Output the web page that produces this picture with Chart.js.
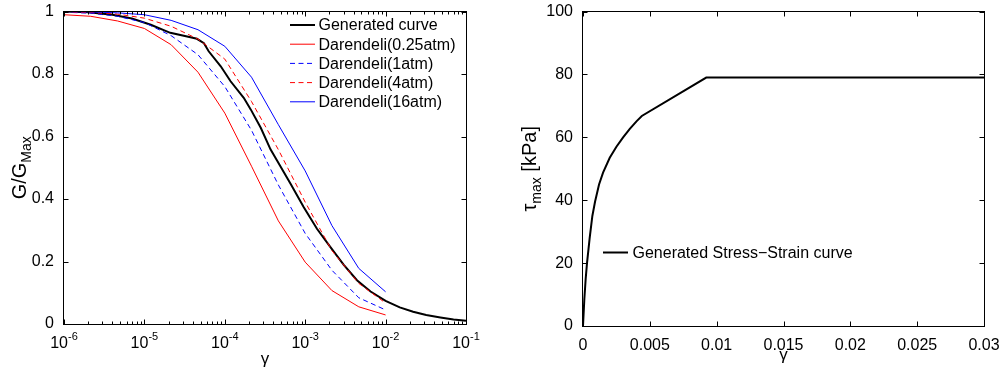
<!DOCTYPE html>
<html><head><meta charset="utf-8">
<script src="https://cdn.jsdelivr.net/npm/chart.js@4.4.0/dist/chart.umd.min.js"></script>
<style>
html,body{margin:0;padding:0;background:#fff;width:1005px;height:372px;overflow:hidden}
#c1{position:absolute;left:0;top:0}
#c2{position:absolute;left:490px;top:0}
</style></head><body>
<canvas id="c1" width="490" height="372"></canvas>
<canvas id="c2" width="515" height="372"></canvas>
<script>
const FONT = '"Liberation Sans", Arial, Helvetica, sans-serif';

// ---------- Left panel: G/Gmax curves ----------
const darGamma = [1e-6, 2.15e-6, 4.64e-6, 1e-5, 2.15e-5, 4.64e-5, 1e-4, 2.15e-4, 4.64e-4, 1e-3, 2.15e-3, 4.64e-3, 1e-2];
const dar025 = [0.99, 0.985, 0.97, 0.946, 0.894, 0.806, 0.675, 0.505, 0.33, 0.198, 0.107, 0.055, 0.029];
const dar1   = [0.998, 0.995, 0.985, 0.965, 0.923, 0.862, 0.76, 0.62, 0.445, 0.29, 0.172, 0.084, 0.045];
const dar4   = [0.999, 0.997, 0.992, 0.979, 0.953, 0.912, 0.848, 0.712, 0.558, 0.39, 0.235, 0.13, 0.067];
const dar16  = [1.0, 0.999, 0.996, 0.99, 0.972, 0.942, 0.889, 0.79, 0.638, 0.49, 0.315, 0.178, 0.103];
const genGamma = [1e-6, 2e-6, 4e-6, 7e-6, 1.2e-5, 2.1e-5, 3.4e-5, 4.5e-5, 5.5e-5, 6.3e-5, 8.9e-5, 1.18e-4, 1.72e-4, 2.1e-4, 2.8e-4, 3.7e-4, 4.5e-4, 6.6e-4, 9.6e-4, 1.4e-3, 2.06e-3, 3e-3, 4.4e-3, 6.5e-3, 1e-2, 1.5e-2, 2.2e-2, 3.2e-2, 4.8e-2, 7e-2, 1e-1];
const genG = [1.0, 0.998, 0.99, 0.978, 0.958, 0.932, 0.92, 0.913, 0.899, 0.873, 0.825, 0.777, 0.724, 0.687, 0.628, 0.559, 0.522, 0.448, 0.374, 0.305, 0.246, 0.19, 0.14, 0.104, 0.074, 0.053, 0.039, 0.029, 0.021, 0.0145, 0.0105];
const leftLabels = ['Generated curve', 'Darendeli(0.25atm)', 'Darendeli(1atm)', 'Darendeli(4atm)', 'Darendeli(16atm)'];
const leftXTicks = [1e-6, 1e-5, 1e-4, 1e-3, 1e-2, 1e-1];
const leftXTickBase = '10';
const leftXTickExp = ['-6', '-5', '-4', '-3', '-2', '-1'];
const leftYTicks = [0, 0.2, 0.4, 0.6, 0.8, 1];
const leftYTickLabels = ['0', '0.2', '0.4', '0.6', '0.8', '1'];

// ---------- Right panel: stress-strain ----------
const stressGamma = [0, 0.0001, 0.0002, 0.0003, 0.0005, 0.0007, 0.0009, 0.0012, 0.0015, 0.002, 0.0025, 0.003, 0.0035, 0.004, 0.0044, 0.00922, 0.03];
const stressTau   = [0, 8.5, 15, 20, 28, 35, 39.5, 45, 48.8, 53.5, 57, 60, 62.7, 65.1, 66.8, 79, 79];
const rightLabel = 'Generated Stress\u2212Strain curve';
const rightXTicks = [0, 0.005, 0.01, 0.015, 0.02, 0.025, 0.03];
const rightXTickLabels = ['0', '0.005', '0.01', '0.015', '0.02', '0.025', '0.03'];
const rightYTicks = [0, 20, 40, 60, 80, 100];
const rightYTickLabels = ['0', '20', '40', '60', '80', '100'];

Chart.defaults.font.family = FONT;
Chart.defaults.font.size = 16;
Chart.defaults.color = '#000';

function pts(xs, ys) { return xs.map((x, i) => ({x: x, y: ys[i]})); }

// Box + inward ticks (MATLAB style)
const boxPlugin = {
  id: 'mbox',
  afterDatasetsDraw(chart, args, o) {
    const {ctx, chartArea: a} = chart;
    const xs = chart.scales.x, ys = chart.scales.y;
    const L = Math.round(a.left) - 0.5, R = Math.round(a.right) + 0.5;
    const T = Math.round(a.top) - 0.5, B = Math.round(a.bottom) + 0.5;
    ctx.save();
    ctx.setLineDash([]);
    ctx.strokeStyle = '#000';
    ctx.lineWidth = 1;
    ctx.beginPath();
    const maj = 5, mnr = 3;
    xs.ticks.forEach(t => {
      const p = Math.round(xs.getPixelForValue(t.value)) + 0.5;
      ctx.moveTo(p, B); ctx.lineTo(p, B - maj);
      ctx.moveTo(p, T); ctx.lineTo(p, T + maj);
    });
    (o.xMinor || []).forEach(v => {
      const p = Math.round(xs.getPixelForValue(v)) + 0.5;
      ctx.moveTo(p, B); ctx.lineTo(p, B - mnr);
      ctx.moveTo(p, T); ctx.lineTo(p, T + mnr);
    });
    ys.ticks.forEach(t => {
      const p = Math.round(ys.getPixelForValue(t.value)) + 0.5;
      ctx.moveTo(L, p); ctx.lineTo(L + maj, p);
      ctx.moveTo(R, p); ctx.lineTo(R - maj, p);
    });
    ctx.stroke();
    ctx.strokeRect(L, T, R - L, B - T);

    // legend
    const lg = o.legend;
    if (lg) {
      chart.data.datasets.forEach((ds, i) => {
        const y = lg.y + i * lg.dy;
        ctx.beginPath();
        ctx.strokeStyle = ds.borderColor;
        ctx.lineWidth = ds.borderWidth;
        ctx.setLineDash(ds.borderDash || []);
        ctx.moveTo(lg.x0, y); ctx.lineTo(lg.x1, y);
        ctx.stroke();
        ctx.setLineDash([]);
        ctx.fillStyle = '#000';
        ctx.font = '16px ' + FONT;
        ctx.textAlign = 'left';
        ctx.textBaseline = 'middle';
        ctx.fillText(ds.label, lg.tx, y + 1);
      });
    }

    // x title
    if (o.xTitle) {
      ctx.fillStyle = '#000';
      ctx.font = o.xTitle.size + 'px ' + FONT;
      ctx.textAlign = 'center';
      ctx.textBaseline = 'alphabetic';
      ctx.fillText(o.xTitle.text, (a.left + a.right) / 2, o.xTitle.y);
    }
    // y title (rotated, with subscript)
    if (o.yTitle) {
      const parts = o.yTitle.parts;
      let total = 0;
      parts.forEach(p => { ctx.font = p.size + 'px ' + FONT; p.w = ctx.measureText(p.t).width; total += p.w; });
      ctx.translate(o.yTitle.x, (a.top + a.bottom) / 2);
      ctx.rotate(-Math.PI / 2);
      ctx.fillStyle = '#000';
      ctx.textAlign = 'left';
      ctx.textBaseline = 'alphabetic';
      let u = -total / 2;
      parts.forEach(p => {
        ctx.font = p.size + 'px ' + FONT;
        ctx.fillText(p.t, u, p.dy || 0);
        u += p.w;
      });
    }
    ctx.restore();
  },
  afterDraw(chart, args, o) {
    if (!o.logLabels) return;
    const {ctx} = chart;
    const xs = chart.scales.x;
    ctx.save();
    ctx.fillStyle = '#000';
    ctx.textBaseline = 'alphabetic';
    ctx.textAlign = 'left';
    o.logLabels.values.forEach((v, i) => {
      const p = xs.getPixelForValue(v);
      ctx.font = '16px ' + FONT;
      const wb = ctx.measureText(o.logLabels.base).width;
      ctx.font = '11px ' + FONT;
      const we = ctx.measureText(o.logLabels.exps[i]).width;
      const x0 = p - (wb + we) / 2;
      ctx.font = '16px ' + FONT;
      ctx.fillText(o.logLabels.base, x0, o.logLabels.y);
      ctx.font = '11px ' + FONT;
      ctx.fillText(o.logLabels.exps[i], x0 + wb, o.logLabels.y - 8);
    });
    ctx.restore();
  }
};

const minorLog = [];
for (let k = -6; k <= -2; k++) for (let m = 2; m <= 9; m++) minorLog.push(m * Math.pow(10, k));

const common = {
  responsive: false, animation: false, devicePixelRatio: 1, events: [],
  plugins: { legend: {display: false}, tooltip: {enabled: false} },
  elements: { point: {radius: 0}, line: {tension: 0} }
};

new Chart(document.getElementById('c1'), {
  type: 'line',
  data: {
    datasets: [
      {label: leftLabels[0], data: pts(genGamma, genG), borderColor: '#000000', borderWidth: 2, order: 5},
      {label: leftLabels[1], data: pts(darGamma, dar025), borderColor: '#ff0000', borderWidth: 1, order: 4},
      {label: leftLabels[2], data: pts(darGamma, dar1), borderColor: '#0000ff', borderWidth: 1, borderDash: [5, 3.5], order: 3},
      {label: leftLabels[3], data: pts(darGamma, dar4), borderColor: '#ff0000', borderWidth: 1, borderDash: [5, 3.5], order: 2},
      {label: leftLabels[4], data: pts(darGamma, dar16), borderColor: '#0000ff', borderWidth: 1, order: 1}
    ]
  },
  options: Object.assign({}, common, {
    layout: {padding: {top: 10, right: 24, left: 0, bottom: 0}},
    scales: {
      x: {
        type: 'logarithmic', min: 1e-6, max: 1e-1,
        grid: {display: false}, border: {display: false},
        ticks: {display: false},
        afterBuildTicks: s => { s.ticks = leftXTicks.map(v => ({value: v})); },
        afterFit: s => { s.height = 48; }
      },
      y: {
        type: 'linear', min: 0, max: 1,
        grid: {display: false}, border: {display: false},
        ticks: {padding: 2, autoSkip: false, callback: (v, i) => leftYTickLabels[i]},
        afterBuildTicks: s => { s.ticks = leftYTicks.map(v => ({value: v})); },
        afterFit: s => { s.width = 64; }
      }
    },
    plugins: Object.assign({}, common.plugins, {
      mbox: {
        xMinor: minorLog,
        legend: {x0: 290, x1: 315, tx: 318.5, y: 25, dy: 19.2},
        xTitle: {text: '\u03b3', size: 17, y: 363.5},
        yTitle: {x: 25.5, parts: [{t: 'G/G', size: 20}, {t: 'Max', size: 14, dy: 5}]},
        logLabels: {values: leftXTicks, base: leftXTickBase, exps: leftXTickExp, y: 347.5}
      }
    })
  }),
  plugins: [boxPlugin]
});

new Chart(document.getElementById('c2'), {
  type: 'line',
  data: {
    datasets: [
      {label: rightLabel, data: pts(stressGamma, stressTau), borderColor: '#000000', borderWidth: 2}
    ]
  },
  options: Object.assign({}, common, {
    layout: {padding: {top: 10, right: 21, left: 0, bottom: 0}},
    scales: {
      x: {
        type: 'linear', min: 0, max: 0.03,
        grid: {display: false}, border: {display: false},
        ticks: {padding: 2, autoSkip: false, maxRotation: 0, callback: (v, i) => rightXTickLabels[i]},
        afterBuildTicks: s => { s.ticks = rightXTicks.map(v => ({value: v})); },
        afterFit: s => { s.height = 46; }
      },
      y: {
        type: 'linear', min: 0, max: 100,
        grid: {display: false}, border: {display: false},
        ticks: {padding: 2, autoSkip: false, callback: (v, i) => rightYTickLabels[i]},
        afterBuildTicks: s => { s.ticks = rightYTicks.map(v => ({value: v})); },
        afterFit: s => { s.width = 93; }
      }
    },
    plugins: Object.assign({}, common.plugins, {
      mbox: {
        legend: {x0: 113, x1: 138, tx: 142.5, y: 252.5, dy: 19.2},
        xTitle: {text: '\u03b3', size: 17, y: 359.5},
        yTitle: {x: 46, parts: [{t: '\u03c4', size: 20}, {t: 'max', size: 14, dy: 5}, {t: ' [kPa]', size: 20}]}
      }
    })
  }),
  plugins: [boxPlugin]
});
</script>
</body></html>
